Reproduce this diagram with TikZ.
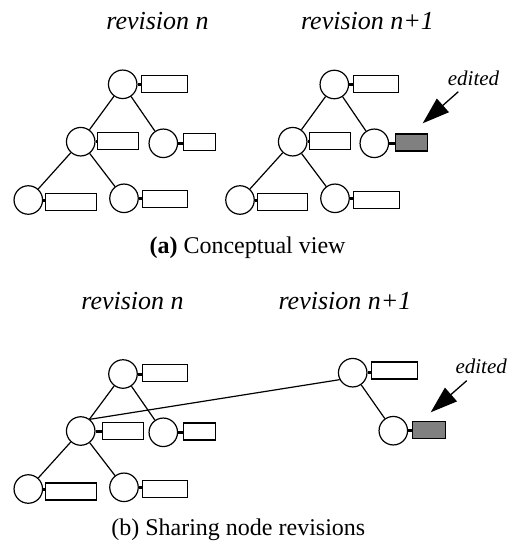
\documentclass[tikz,border=0pt]{standalone}
\usepackage{fontspec}
\setmainfont{Liberation Serif}
\usetikzlibrary{arrows.meta}
\definecolor{editgray}{RGB}{128,128,128}
\tikzset{
  circ/.style={circle,draw,line width=1.2pt,minimum size=28.5pt,inner sep=0pt},
  rec/.style={rectangle,draw,line width=1.2pt,minimum height=17pt,inner sep=0pt,minimum width=#1},
  grec/.style={rec=#1,fill=editgray},
  stubline/.style={line width=3pt},
  treeline/.style={line width=1.2pt},
  ttl/.style={font=\fontsize{26}{30}\selectfont\itshape,anchor=base,inner sep=0pt},
  captxt/.style={font=\fontsize{24}{28}\selectfont,anchor=base,inner sep=0pt},
  edtxt/.style={font=\fontsize{21}{25}\selectfont\itshape,anchor=base,inner sep=0pt},
  bigarrow/.style={line width=1.3pt,-{Triangle[length=27pt,width=18pt]}}
}
\newcommand{\pairnode}[6]{%
  \node[circ] (#1) at (#2,#3) {};
  \node[#6] (#1r) at (#4,#5) {};
  \draw[stubline] (#1.east) -- (#1.east -| #1r.west);
}
\begin{document}
\begin{tikzpicture}[x=1pt,y=-1pt]
\useasboundingbox (0,0) rectangle (515,546);

% ---------- (a) titles
\node[ttl] (t1) at (157.5,29.5) {revision n};
\node[ttl] (t2) at (367.5,29.5) {revision n+1};

% ---------- (a) left tree
\pairnode{aR}{122.7}{84.3}{164.7}{83.6}{rec=46pt}
\pairnode{aL}{80.7}{141.7}{118.3}{140.7}{rec=41pt}
\pairnode{aM}{163.3}{143.3}{199.5}{142}{rec=32.6pt}
\pairnode{aB}{28.3}{200}{71}{202}{rec=50.4pt}
\pairnode{aC}{124}{198.3}{165}{199.3}{rec=45.6pt}
\draw[treeline] (aR) -- (aL);
\draw[treeline] (aR) -- (aM);
\draw[treeline] (aL) -- (aB);
\draw[treeline] (aL) -- (aC);

% ---------- (a) right tree
\pairnode{pR}{334.3}{84.5}{376.3}{84}{rec=45pt}
\pairnode{pL}{292.7}{141.7}{330.3}{141}{rec=41pt}
\pairnode{pM}{374.3}{143.3}{411.5}{142.5}{grec=32.6pt}
\pairnode{pB}{240}{200}{282.8}{202}{rec=50pt}
\pairnode{pC}{335}{198.3}{376.7}{199.7}{rec=45.7pt}
\draw[treeline] (pR) -- (pL);
\draw[treeline] (pR) -- (pM);
\draw[treeline] (pL) -- (pB);
\draw[treeline] (pL) -- (pC);

\node[edtxt] (e1) at (473.5,85) {edited};
\coordinate (e1s) at (458.3,91.7);
\coordinate (e1t) at (422.7,123.3);
\draw[bigarrow] (e1s) -- (e1t);

\node[captxt] (c1) at (247.5,253) {\textbf{(a)} Conceptual view};

% ---------- (b) titles
\node[ttl] (t3) at (132.5,309) {revision n};
\node[ttl] (t4) at (345,309) {revision n+1};

% ---------- (b) left tree
\pairnode{bR}{123}{374}{164.7}{373.3}{rec=45pt}
\pairnode{bL}{80.7}{431}{122.8}{431.2}{rec=41.3pt}
\pairnode{bM}{163.3}{432.3}{199.5}{431.5}{rec=32.6pt}
\pairnode{bB}{28.3}{489}{71}{491.5}{rec=50.4pt}
\pairnode{bC}{124}{487.3}{165}{488.7}{rec=45.6pt}
\draw[treeline] (bR) -- (bL);
\draw[treeline] (bR) -- (bM);
\draw[treeline] (bL) -- (bB);
\draw[treeline] (bL) -- (bC);

% ---------- (b) right tree
\pairnode{qR}{352.7}{372.7}{394.7}{370.5}{rec=45.7pt}
\pairnode{qC}{393.3}{430.7}{428.8}{429.7}{grec=32.7pt}
\draw[treeline] (qR) -- (qC);
\draw[treeline] (bL.52) -- (qR.208);

\node[edtxt] (e2) at (481.2,373.3) {edited};
\coordinate (e2s) at (466.7,380.7);
\coordinate (e2t) at (430.7,412.3);
\draw[bigarrow] (e2s) -- (e2t);

\node[captxt] (c2) at (238.3,535) {(b) Sharing node revisions};
\end{tikzpicture}
\end{document}
